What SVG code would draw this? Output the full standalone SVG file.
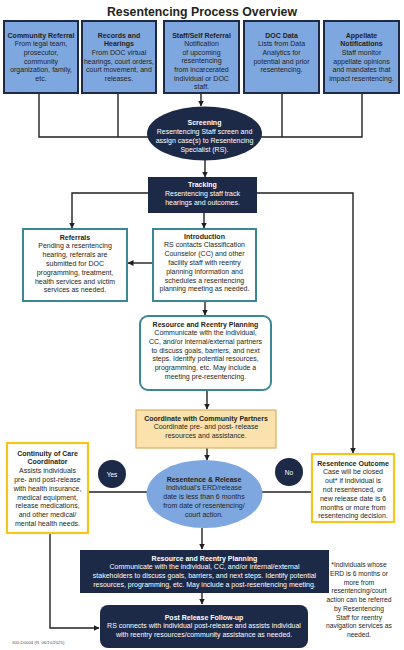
<svg xmlns="http://www.w3.org/2000/svg" width="404" height="650" viewBox="0 0 404 650">
<defs>
<marker id="ah" markerWidth="6" markerHeight="6" refX="5.5" refY="3" orient="auto" markerUnits="userSpaceOnUse"><path d="M0,0 L6,3 L0,6 z" fill="#231f20"/></marker>
<style>
text{font-family:"Liberation Sans",Arial,sans-serif;font-size:7px;text-anchor:middle;fill:#231f20}
.b{font-weight:bold}
.w{fill:#ffffff}
.fn{font-size:6.7px}
.src{fill:#7ea7df;stroke:#1c2a48;stroke-width:2}
.navy{fill:#1c2a48}
.teal{fill:#ffffff;stroke:#3b8796;stroke-width:2}
.yel{fill:#ffffff;stroke:#f4c51f;stroke-width:2.2}
.con{fill:none;stroke:#231f20;stroke-width:1.4}
.arr{marker-end:url(#ah)}
</style>
</defs>
<rect width="404" height="650" fill="#ffffff"/>
<text x="202" y="15.6" class="b" style="font-size:12.3px">Resentencing Process Overview</text>

<g id="connectors">
<path class="con" d="M39,93 V137 H362 V93"/>
<path class="con" d="M118,93 V137"/>
<path class="con" d="M282,93 V137"/>
<path class="con arr" d="M201,93 V106"/>
<path class="con arr" d="M205,160 V177"/>
<path class="con arr" d="M148,193 H72 V228"/>
<path class="con arr" d="M257,193 H353 V453"/>
<path class="con arr" d="M204,213 V228"/>
<path class="con arr" d="M153,263 H128"/>
<path class="con arr" d="M205,301 V315"/>
<path class="con arr" d="M207,390 V409"/>
<path class="con arr" d="M207,448 V460"/>
<path class="con" d="M89,492 H311"/>
<path class="con arr" d="M50,533 V628 H99"/>
<path class="con arr" d="M202,528 V549"/>
<path class="con arr" d="M202,593 V604"/>
</g>

<g id="community-referral">
<rect class="src" x="4" y="21" width="74" height="72"/>
<text x="41" y="37.5" class="b">Community Referral</text>
<text x="41" y="46.2">From legal team,</text>
<text x="41" y="54.9">prosecutor,</text>
<text x="41" y="63.6">community</text>
<text x="41" y="72.3">organization, family,</text>
<text x="41" y="81">etc.</text>
</g>

<g id="records-hearings">
<rect class="src" x="82" y="21" width="74" height="72"/>
<text x="119" y="37.5" class="b">Records and</text>
<text x="119" y="46.2" class="b">Hearings</text>
<text x="119" y="54.9">From DOC virtual</text>
<text x="119" y="63.6">hearings, court orders,</text>
<text x="119" y="72.3">court movement, and</text>
<text x="119" y="81">releases.</text>
</g>

<g id="staff-self-referral">
<rect class="src" x="164" y="21" width="75" height="72"/>
<text x="201.5" y="37.5" class="b">Staff/Self Referral</text>
<text x="201.5" y="46.1">Notification</text>
<text x="201.5" y="54.7">of upcoming</text>
<text x="201.5" y="63.3">resentencing</text>
<text x="201.5" y="71.9">from incarcerated</text>
<text x="201.5" y="80.5">individual or DOC</text>
<text x="201.5" y="89">staff.</text>
</g>

<g id="doc-data">
<rect class="src" x="244" y="21" width="75" height="72"/>
<text x="281.5" y="37.5" class="b">DOC Data</text>
<text x="281.5" y="46.2">Lists from Data</text>
<text x="281.5" y="54.9">Analytics for</text>
<text x="281.5" y="63.6">potential and prior</text>
<text x="281.5" y="72.3">resentencing.</text>
</g>

<g id="appellate">
<rect class="src" x="324" y="21" width="75" height="72"/>
<text x="361.5" y="37.5" class="b">Appellate</text>
<text x="361.5" y="46.2" class="b">Notifications</text>
<text x="361.5" y="54.9">Staff monitor</text>
<text x="361.5" y="63.6">appellate opinions</text>
<text x="361.5" y="72.3">and mandates that</text>
<text x="361.5" y="81">impact resentencing.</text>
</g>

<g id="screening">
<ellipse class="navy" cx="204.5" cy="133.5" rx="57.5" ry="27"/>
<text x="204.5" y="125" class="b w">Screening</text>
<text x="204.5" y="134" class="w">Resentencing Staff screen and</text>
<text x="204.5" y="142.8" class="w">assign case(s) to Resentencing</text>
<text x="204.5" y="151.6" class="w">Specialist (RS).</text>
</g>

<g id="tracking">
<rect class="navy" x="148" y="177" width="109" height="36"/>
<text x="202.5" y="186.5" class="b w">Tracking</text>
<text x="202.5" y="195.5" class="w">Resentencing staff track</text>
<text x="202.5" y="204.5" class="w">hearings and outcomes.</text>
</g>

<g id="referrals">
<rect class="teal" x="23" y="229" width="104" height="72"/>
<text x="75" y="239.5" class="b">Referrals</text>
<text x="75" y="248.4">Pending a resentencing</text>
<text x="75" y="257.2">hearing, referrals are</text>
<text x="75" y="266">submitted for DOC</text>
<text x="75" y="274.8">programming, treatment,</text>
<text x="75" y="283.6">health services and victim</text>
<text x="75" y="292.4">services as needed.</text>
</g>

<g id="introduction">
<rect class="teal" x="153" y="229" width="103" height="72"/>
<text x="204.5" y="238.5" class="b">Introduction</text>
<text x="204.5" y="247.3">RS contacts Classification</text>
<text x="204.5" y="256.1">Counselor (CC) and other</text>
<text x="204.5" y="264.9">facility staff with reentry</text>
<text x="204.5" y="273.7">planning information and</text>
<text x="204.5" y="282.5">schedules a resentencing</text>
<text x="204.5" y="291.3">planning meeting as needed.</text>
</g>

<g id="resource-planning-pre">
<rect class="teal" x="140" y="316" width="131" height="74" rx="8"/>
<text x="205.5" y="326.5" class="b">Resource and Reentry Planning</text>
<text x="205.5" y="335.2">Communicate with the individual,</text>
<text x="205.5" y="343.9">CC, and/or internal/external partners</text>
<text x="205.5" y="352.6">to discuss goals, barriers, and next</text>
<text x="205.5" y="361.3">steps. Identify potential resources,</text>
<text x="205.5" y="370">programming, etc. May include a</text>
<text x="205.5" y="378.7">meeting pre-resentencing.</text>
</g>

<g id="coordinate">
<rect x="136" y="410" width="140" height="38" fill="#fbe2ad" stroke="#d9b062" stroke-width="1.2"/>
<text x="206" y="420.5" class="b">Coordinate with Community Partners</text>
<text x="206" y="429.3">Coordinate pre- and post- release</text>
<text x="206" y="438.1">resources and assistance.</text>
</g>

<g id="resentence-release">
<ellipse cx="204.5" cy="494" rx="58" ry="34" fill="#7ea7df"/>
<text x="204" y="481.5" class="b">Resentence &amp; Release</text>
<text x="204" y="490.3">Individual's ERD/release</text>
<text x="204" y="499.1">date is less than 6 months</text>
<text x="204" y="507.9">from date of resentencing/</text>
<text x="204" y="516.7">court action.</text>
</g>

<g id="yes">
<circle class="navy" cx="112" cy="474" r="14"/>
<text x="112" y="476.5" class="w" style="font-size:6.5px">Yes</text>
</g>

<g id="no">
<circle class="navy" cx="289" cy="472" r="14"/>
<text x="289" y="474.5" class="w" style="font-size:6.5px">No</text>
</g>

<g id="continuity">
<rect class="yel" x="7" y="443" width="81" height="90"/>
<text x="47.5" y="455.5" class="b">Continuity of Care</text>
<text x="47.5" y="464.3" class="b">Coordinator</text>
<text x="47.5" y="473.1">Assists individuals</text>
<text x="47.5" y="481.9">pre- and post-release</text>
<text x="47.5" y="490.7">with health insurance,</text>
<text x="47.5" y="499.5">medical equipment,</text>
<text x="47.5" y="508.3">release medications,</text>
<text x="47.5" y="517.1">and other medical/</text>
<text x="47.5" y="525.9">mental health needs.</text>
</g>

<g id="resentence-outcome">
<rect class="yel" x="312" y="454" width="82" height="68"/>
<text x="353" y="465.5" class="b">Resentence Outcome</text>
<text x="353" y="474.3">Case will be closed</text>
<text x="353" y="483.1">out* if individual is</text>
<text x="353" y="491.9">not resentenced, or</text>
<text x="353" y="500.7">new release date is 6</text>
<text x="353" y="509.5">months or more from</text>
<text x="353" y="518.3">resentencing decision.</text>
</g>

<g id="resource-planning-post">
<rect class="navy" x="80" y="550" width="249" height="43"/>
<text x="204.5" y="560.5" class="b w">Resource and Reentry Planning</text>
<text x="204.5" y="569.4" class="w">Communicate with the individual, CC, and/or internal/external</text>
<text x="204.5" y="578.3" class="w">stakeholders to discuss goals, barriers, and next steps. Identify potential</text>
<text x="204.5" y="587.2" class="w">resources, programming, etc. May include a post-resentencing meeting.</text>
</g>

<g id="post-release">
<rect class="navy" x="100" y="605" width="208" height="43" rx="8"/>
<text x="204" y="619.5" class="b w">Post Release Follow-up</text>
<text x="204" y="628.4" class="w">RS connects with individual post-release and assists individual</text>
<text x="204" y="637.3" class="w">with reentry resources/community assistance as needed.</text>
</g>

<g id="footnote">
<text x="359" y="567.3" class="fn">*Individuals whose</text>
<text x="359" y="576" class="fn">ERD is 6 months or</text>
<text x="359" y="584.7" class="fn">more from</text>
<text x="359" y="593.4" class="fn">resentencing/court</text>
<text x="359" y="602.1" class="fn">action can be referred</text>
<text x="359" y="610.8" class="fn">by Resentencing</text>
<text x="359" y="619.5" class="fn">Staff for reentry</text>
<text x="359" y="628.2" class="fn">navigation services as</text>
<text x="359" y="636.9" class="fn">needed.</text>
</g>

<text x="12" y="644" style="font-size:4.3px;text-anchor:start;fill:#555555">300-D0004 (R. 06/10/2025)</text>
</svg>
